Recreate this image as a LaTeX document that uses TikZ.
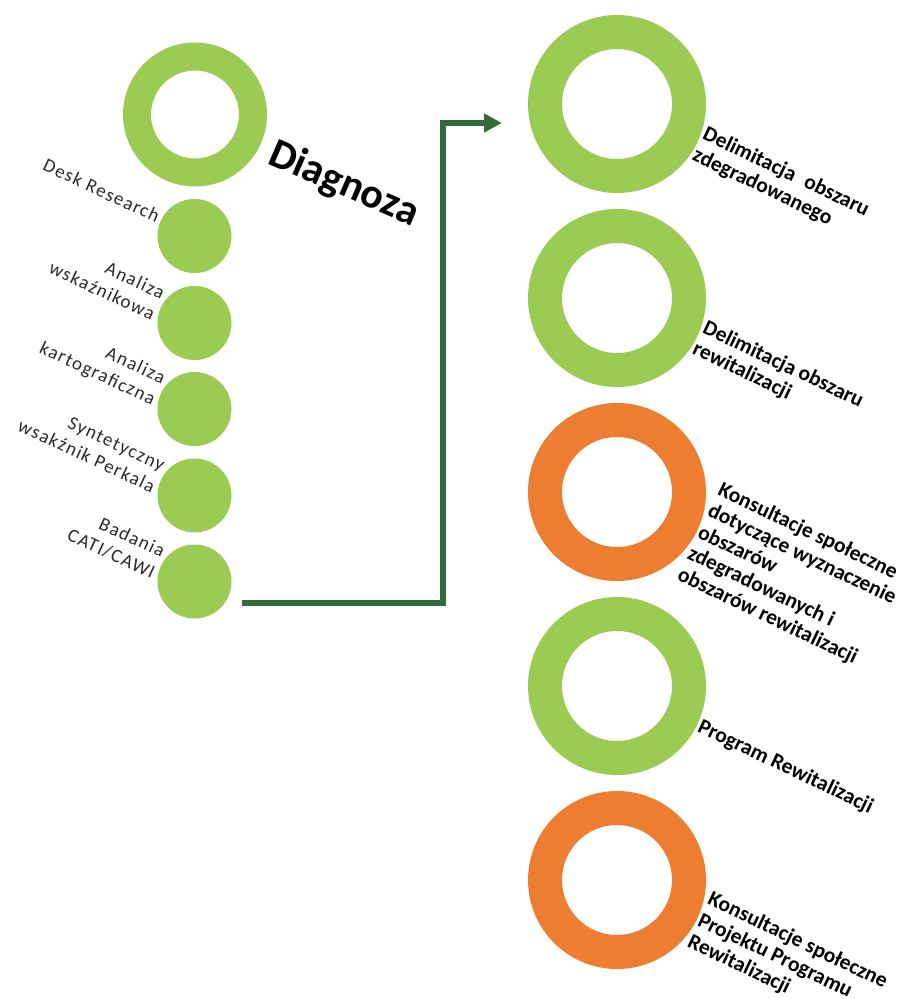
\documentclass[tikz,border=0pt]{standalone}
\usepackage{fontspec}
\setmainfont{Carlito}
\usetikzlibrary{arrows.meta}
\definecolor{ringgreen}{HTML}{9BCB52}
\definecolor{ringorange}{HTML}{ED7D31}
\definecolor{arrowgreen}{HTML}{336B3F}
\definecolor{labelgray}{HTML}{2A2A2A}
\begin{document}
\begin{tikzpicture}[x=1pt,y=-1pt,
  bigring/.style={circle, draw=#1, line width=34pt, minimum size=144pt, inner sep=0pt},
  topring/.style={circle, draw=ringgreen, line width=28pt, minimum size=116pt, inner sep=0pt},
  dot/.style={circle, fill=ringgreen, minimum size=74pt, inner sep=0pt},
  rlabel/.style={anchor=west, rotate=-25.5, align=left, inner sep=2pt, font=\bfseries\fontsize{21.5}{23.5}\selectfont},
  llabel/.style={anchor=east, rotate=-25, align=right, inner sep=3pt, text=labelgray, font=\fontsize{19}{23.5}\selectfont\addfontfeature{LetterSpace=7}},
  conn/.style={draw=arrowgreen, line width=6pt, -{Triangle[length=18pt,width=18pt]}}
]
\useasboundingbox (0,0) rectangle (912,999);
% left column
\node[topring] (r0) at (195,114.5) {};
\node[dot] (c1) at (194.5,236) {};
\node[dot] (c2) at (194.5,323) {};
\node[dot] (c3) at (194.5,409) {};
\node[dot] (c4) at (194.5,495.5) {};
\node[dot] (c5) at (194.5,581.5) {};
\node[rotate=-23.5, anchor=base west, inner sep=0pt, font=\bfseries\fontsize{42}{50}\selectfont] (diag) at (266,163) {Diagnoza};
\node[llabel] (l1) at (c1.152) {Desk Research};
\node[llabel] (l2) at (c2.152) {Analiza\\wskaźnikowa};
\node[llabel] (l3) at (c3.152) {Analiza\\kartograficzna};
\node[llabel] (l4) at (c4.152) {Syntetyczny\\wsakźnik Perkala};
\node[llabel] (l5) at (c5.152) {Badania\\CATI/CAWI};
% right column
\node[bigring=ringgreen] (r1) at (617,104) {};
\node[bigring=ringgreen] (r2) at (617,298) {};
\node[bigring=ringorange] (r3) at (617,492) {};
\node[bigring=ringgreen] (r4) at (617,686) {};
\node[bigring=ringorange] (r5) at (617,880) {};
\node[rlabel] (t1) at (r1.-26) {Delimitacja\hspace{0.3em} obszaru\\zdegradowanego};
\node[rlabel] (t2) at (r2.-26) {Delimitacja obszaru\\rewitalizacji};
\node[rlabel] (t3) at (r3.-26) {Konsultacje społeczne\\dotyczące wyznaczenie\\obszarów\\zdegradowanych i\\obszarów rewitalizacji};
\node[rlabel] (t4) at (r4.-26) {Program Rewitalizacji};
\node[rlabel] (t5) at (r5.-26) {Konsultacje społeczne\\Projektu Programu\\Rewitalizacji};
% connector
\coordinate (start) at ([xshift=10.5pt,yshift=-21.5pt]c5.east);
\coordinate (tip) at ([xshift=-26pt,yshift=-19pt]r1.west);
\coordinate (bend) at (443,123);
\draw[conn] (start) -| (bend) -- (tip);
\end{tikzpicture}
\end{document}
